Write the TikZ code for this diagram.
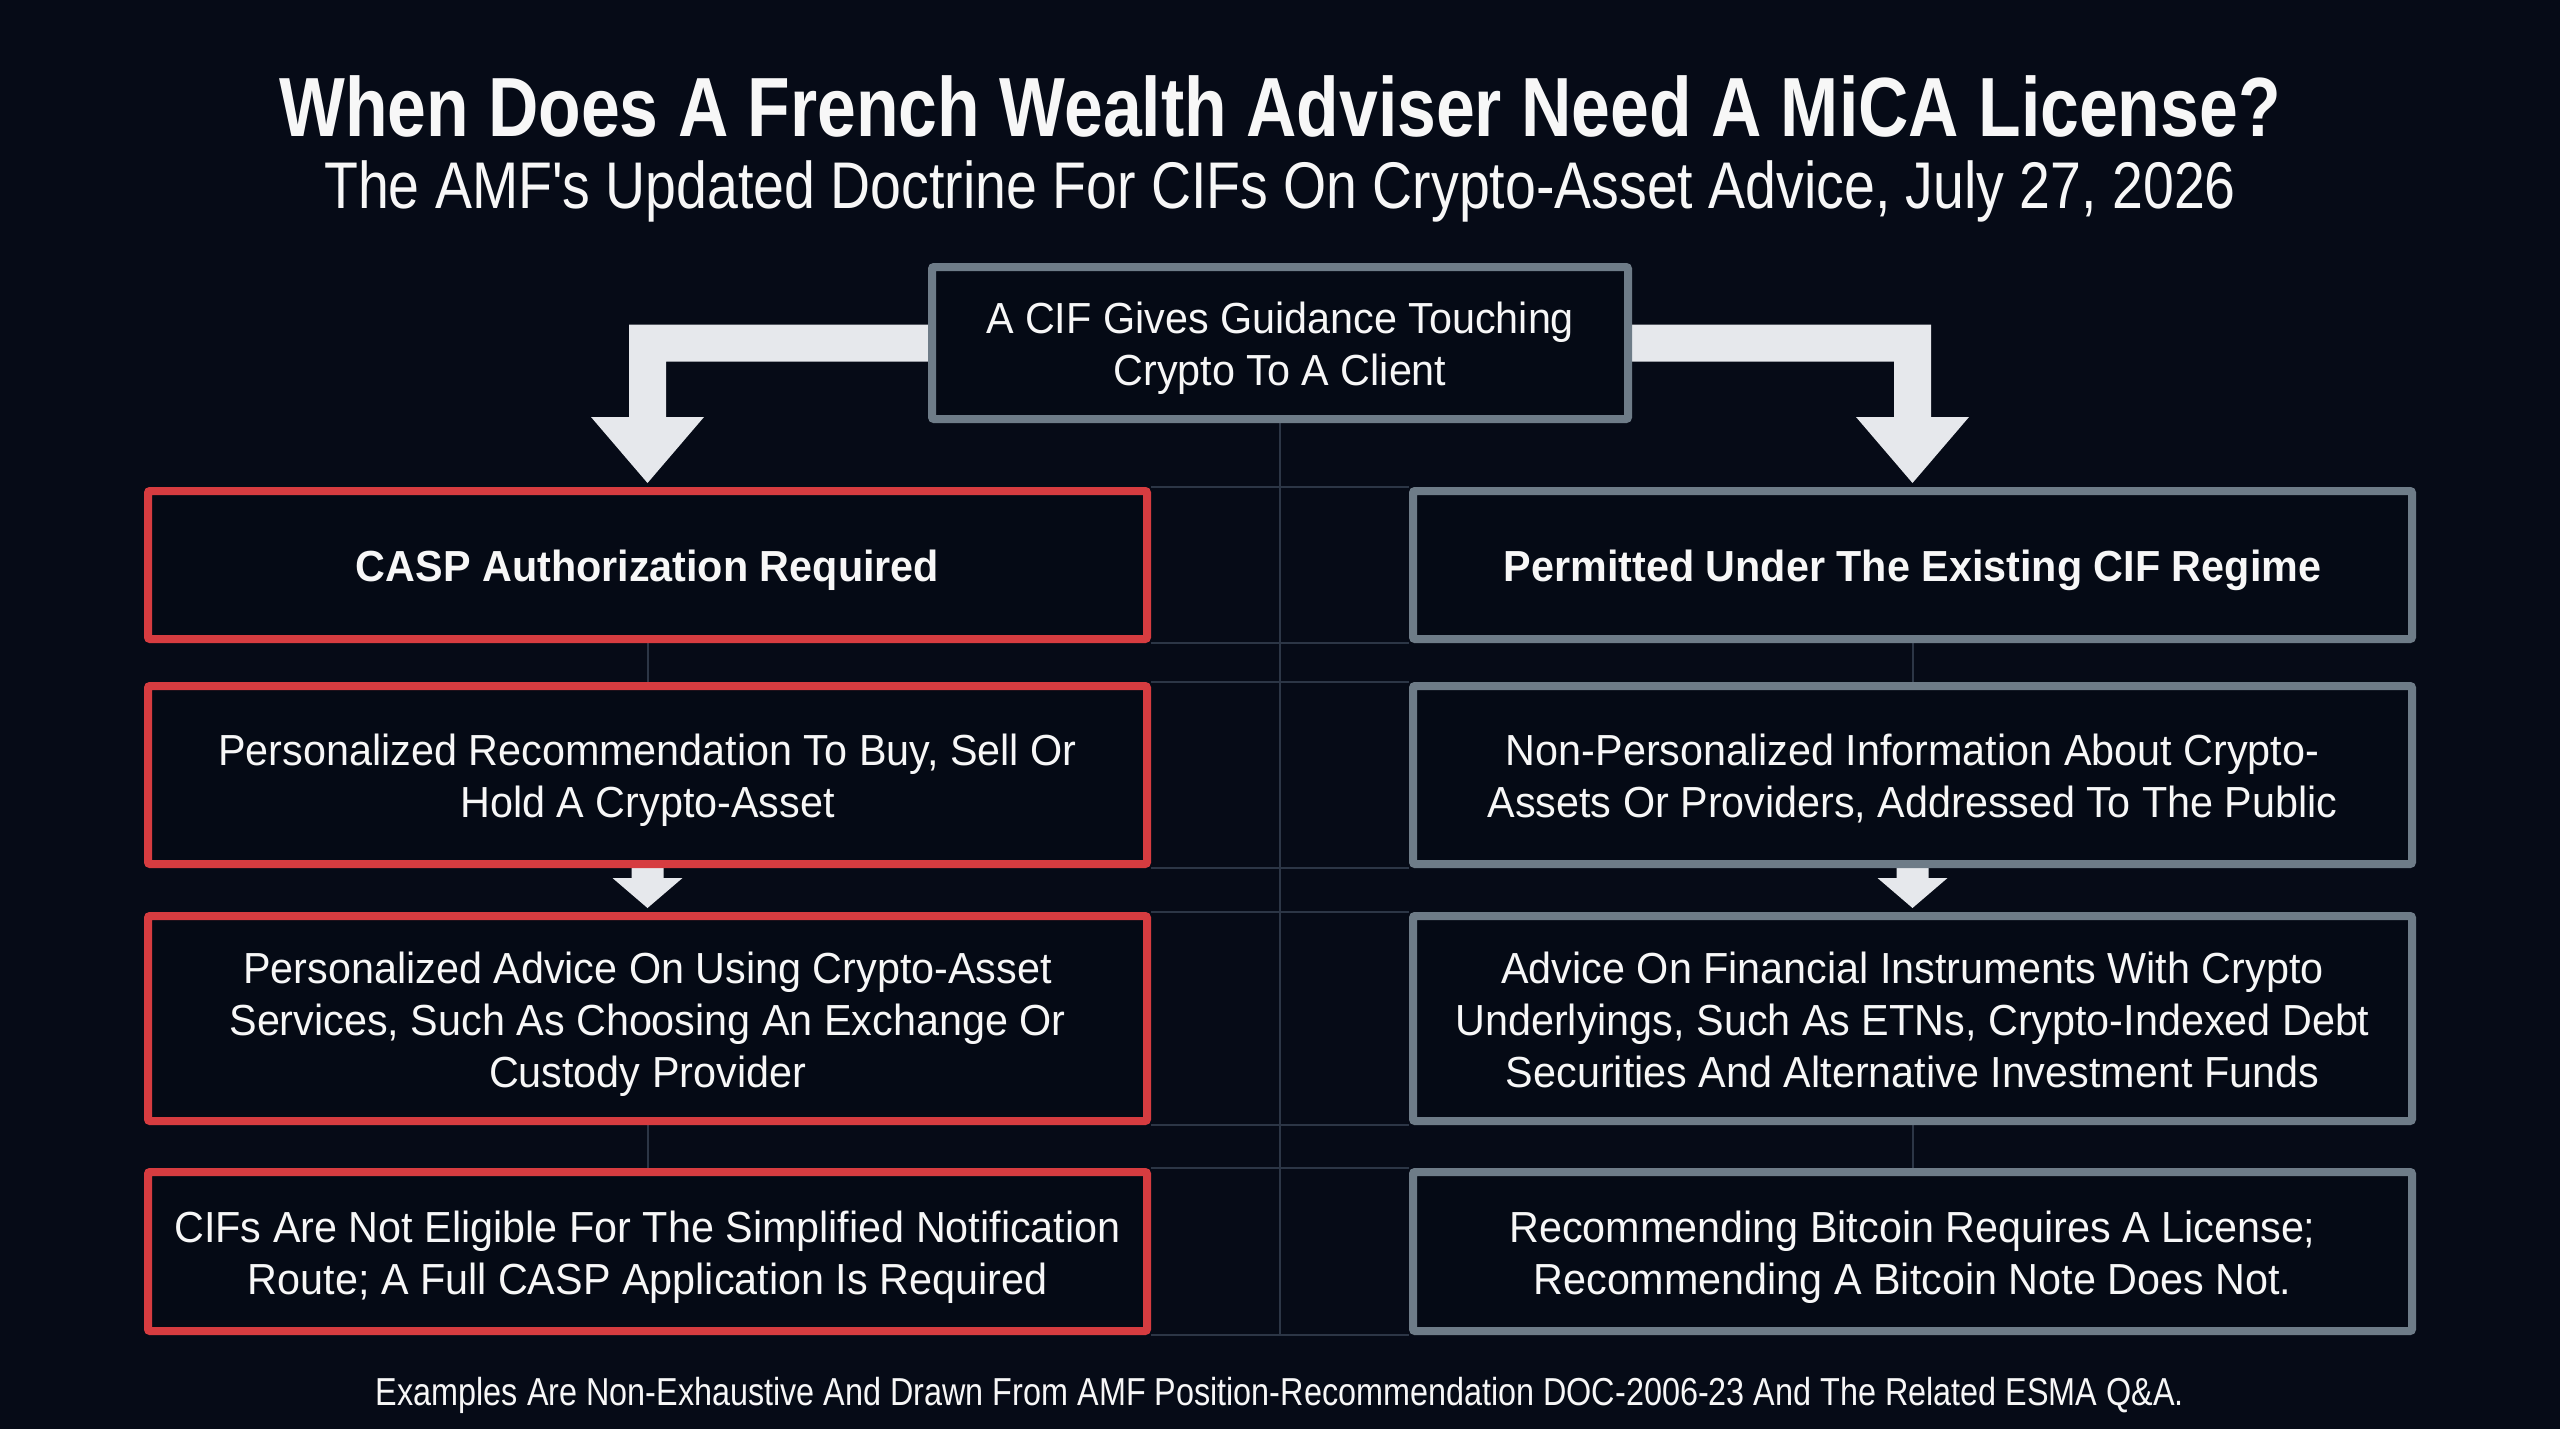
\documentclass[tikz,border=0pt]{standalone}
\usepackage{fontspec}
\setmainfont{Liberation Sans}
\newfontfamily\titlefont[FakeStretch=0.83]{Liberation Sans}
\newfontfamily\subfont[FakeStretch=0.84]{Liberation Sans}
\newfontfamily\boxfont[FakeStretch=0.95]{Liberation Sans}
\newfontfamily\footfont[FakeStretch=0.83]{Liberation Sans}
\usetikzlibrary{calc}
\pgfdeclarelayer{back}
\pgfdeclarelayer{bg}
\pgfsetlayers{back,bg,main}
\definecolor{bgc}{HTML}{060B17}
\definecolor{boxc}{HTML}{050A15}
\definecolor{redc}{HTML}{D63C40}
\definecolor{greyc}{HTML}{6E7C88}
\definecolor{arrowc}{HTML}{E6E8EC}
\definecolor{gridc}{HTML}{2C3646}
\definecolor{textc}{HTML}{F7F7F7}
\newcommand\bxtop{\rule{0pt}{45pt}}
\newcommand\bxbot{\rule[-12pt]{0pt}{12pt}}
\begin{document}
\begin{tikzpicture}[x=1pt,y=-1pt,
  box/.style={draw, line width=8pt, fill=boxc, rounded corners=2pt, inner sep=0pt,
    align=center, text=textc, font=\boxfont\fontsize{43.5}{52}\selectfont},
  hdr/.style={font=\boxfont\bfseries\fontsize{43.5}{52}\selectfont},
  redbox/.style={box, draw=redc},
  greybox/.style={box, draw=greyc},
  gridline/.style={draw=gridc, line width=2pt},
  arrowfill/.style={fill=arrowc},
  r1/.style={minimum width=999pt, minimum height=148pt},
  r2/.style={minimum width=999pt, minimum height=178pt},
  r3/.style={minimum width=999pt, minimum height=205pt},
  r4/.style={minimum width=999pt, minimum height=159pt}]
\begin{pgfonlayer}{back}
\fill[bgc] (0,0) rectangle (2560,1429);
\end{pgfonlayer}
\useasboundingbox (0,0) rectangle (2560,1429);

% titles
\node[anchor=base, text=textc, font=\titlefont\bfseries\fontsize{84}{96}\selectfont] (title) at (1280,136)
  {When Does A French Wealth Adviser Need A MiCA License?};
\node[anchor=base, text=textc, font=\subfont\fontsize{66}{76}\selectfont] (subtitle) at (1280,208)
  {The AMF's Updated Doctrine For CIFs On Crypto-Asset Advice, July 27, 2026};

% top box
\node[greybox, minimum width=696pt, minimum height=152pt] (top) at (1280,343)
  {\bxtop A CIF Gives Guidance Touching\\Crypto To A Client\bxbot};

% left column
\node[redbox, hdr, r1] (L1) at (647.5,565) {\bxtop CASP Authorization Required\bxbot};
\node[redbox, r2] (L2) at (647.5,775) {\bxtop Personalized Recommendation To Buy, Sell Or\\Hold A Crypto-Asset\bxbot};
\node[redbox, r3] (L3) at (647.5,1018.5) {\bxtop Personalized Advice On Using Crypto-Asset\\Services, Such As Choosing An Exchange Or\\Custody Provider\bxbot};
\node[redbox, r4] (L4) at (647.5,1251.5) {\bxtop CIFs Are Not Eligible For The Simplified Notification\\Route; A Full CASP Application Is Required\bxbot};

% right column
\node[greybox, hdr, r1] (R1) at (1912.5,565) {\bxtop Permitted Under The Existing CIF Regime\bxbot};
\node[greybox, r2] (R2) at (1912.5,775) {\bxtop Non-Personalized Information About Crypto-\\Assets Or Providers, Addressed To The Public\bxbot};
\node[greybox, r3] (R3) at (1912.5,1018.5) {\bxtop Advice On Financial Instruments With Crypto\\Underlyings, Such As ETNs, Crypto-Indexed Debt\\Securities And Alternative Investment Funds\bxbot};
\node[greybox, r4] (R4) at (1912.5,1251.5) {\bxtop Recommending Bitcoin Requires A License;\\Recommending A Bitcoin Note Does Not.\bxbot};

% footer
\node[anchor=base, text=textc, font=\footfont\fontsize{39}{46}\selectfont] (foot) at (1280,1405)
  {Examples Are Non-Exhaustive And Drawn From AMF Position-Recommendation DOC-2006-23 And The Related ESMA Q\&A.};

\begin{pgfonlayer}{bg}
  % faint grid
  \draw[gridline] (top.south) -- (top.south |- L4.south);
  \foreach \a/\b in {L1/R1,L2/R2,L3/R3,L4/R4}{
    \draw[gridline] (\a.north east) -- (\b.north west);
    \draw[gridline] (\a.south east) -- (\b.south west);
  }
  \draw[gridline] (L1.south) -- (L2.north);
  \draw[gridline] (L3.south) -- (L4.north);
  \draw[gridline] (R1.south) -- (R2.north);
  \draw[gridline] (R3.south) -- (R4.north);

  % big bent arrows
  \fill[arrowfill] let \p1=(top.west), \p2=(L1.north) in
    (\x1+4pt,\y1+18.5pt) -- (\x2-18.5pt,\y1+18.5pt) -- (\x2-18.5pt,\y2+70pt)
    -- (\x2-56.5pt,\y2+70pt) -- (\x2,\y2+4pt) -- (\x2+56.5pt,\y2+70pt)
    -- (\x2+18.5pt,\y2+70pt) -- (\x2+18.5pt,\y1-18.5pt) -- (\x1+4pt,\y1-18.5pt) -- cycle;
  \fill[arrowfill] let \p1=(top.east), \p2=(R1.north) in
    (\x1-4pt,\y1+18.5pt) -- (\x2+18.5pt,\y1+18.5pt) -- (\x2+18.5pt,\y2+70pt)
    -- (\x2+56.5pt,\y2+70pt) -- (\x2,\y2+4pt) -- (\x2-56.5pt,\y2+70pt)
    -- (\x2-18.5pt,\y2+70pt) -- (\x2-18.5pt,\y1-18.5pt) -- (\x1-4pt,\y1-18.5pt) -- cycle;

  % small arrows
  \foreach \a/\b in {L2/L3,R2/R3}{
    \fill[arrowfill] let \p1=(\a.south), \p2=(\b.north) in
      (\x1-16pt,\y1) -- (\x1-16pt,\y2+34pt) -- (\x1-35pt,\y2+34pt) -- (\x1,\y2+4pt)
      -- (\x1+35pt,\y2+34pt) -- (\x1+16pt,\y2+34pt) -- (\x1+16pt,\y1) -- cycle;
  }
\end{pgfonlayer}
\end{tikzpicture}
\end{document}
